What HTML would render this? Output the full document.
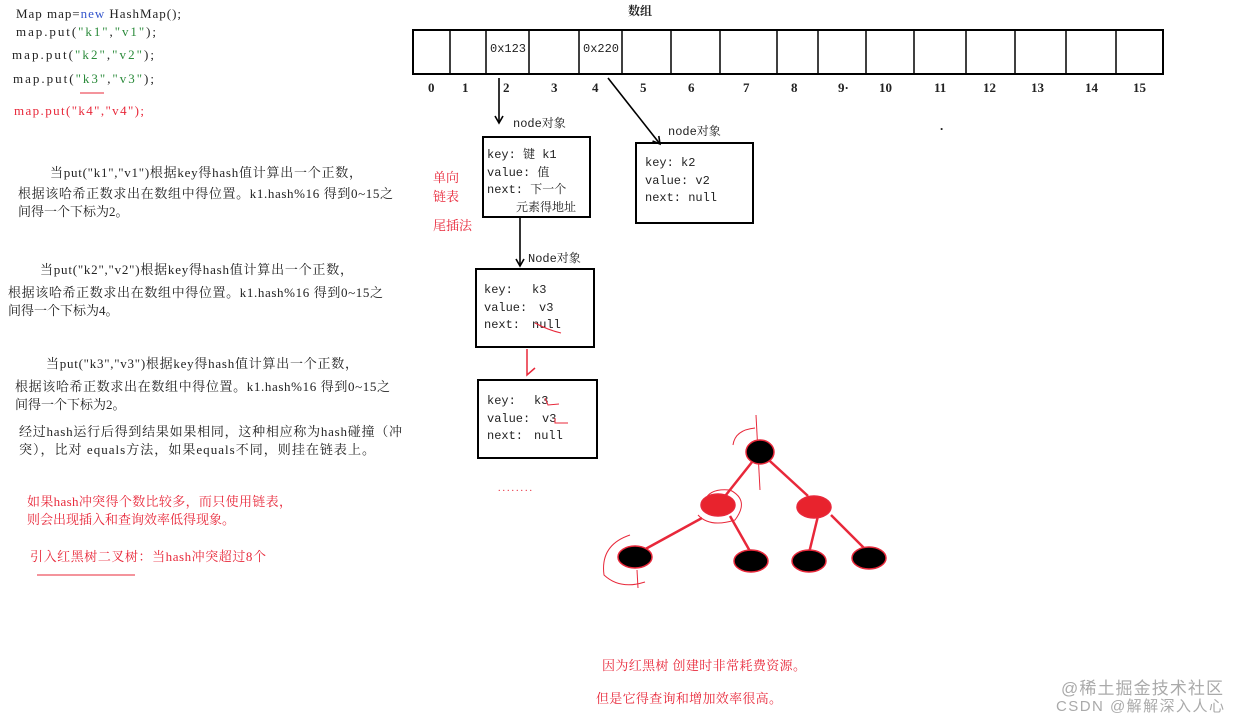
<!DOCTYPE html>
<html><head><meta charset="utf-8"><style>
html,body{margin:0;padding:0;background:#fff;}
svg{display:block;}
text{font-family:"Liberation Serif","Noto Serif CJK SC",serif;font-size:13px;fill:#222;}
.r{fill:#e8283a;}
.m{font-family:"Liberation Mono","Noto Serif CJK SC",monospace;font-size:12px;}
</style></head><body>
<svg width="1240" height="718" viewBox="0 0 1240 718" xmlns="http://www.w3.org/2000/svg">
<defs><marker id="ah" markerWidth="10" markerHeight="10" refX="8" refY="5" orient="auto" markerUnits="userSpaceOnUse"><path d="M1,1 L8,5 L1,9" fill="none" stroke="#000" stroke-width="1.6"/></marker></defs>
<text x="16" y="18" textLength="165">Map map=<tspan fill="#3355cc">new</tspan> HashMap();</text>
<text x="16" y="36" textLength="140">map.put(<tspan fill="#2a8a3a">"k1"</tspan>,<tspan fill="#2a8a3a">"v1"</tspan>);</text>
<text x="12" y="59" textLength="142">map.put(<tspan fill="#2a8a3a">"k2"</tspan>,<tspan fill="#2a8a3a">"v2"</tspan>);</text>
<text x="13" y="83" textLength="141">map.put(<tspan fill="#2a8a3a">"k3"</tspan>,<tspan fill="#2a8a3a">"v3"</tspan>);</text>
<line x1="80" y1="93" x2="104" y2="93" stroke="#e8283a" stroke-width="1"/>
<text class="r" x="14" y="115" textLength="130">map.put("k4","v4");</text>
<text x="50" y="177" textLength="312">当put("k1","v1")根据key得hash值计算出一个正数，</text>
<text x="18" y="198" textLength="375">根据该哈希正数求出在数组中得位置。k1.hash%16 得到0~15之</text>
<text x="18" y="216">间得一个下标为2。</text>
<text x="40" y="274" textLength="313">当put("k2","v2")根据key得hash值计算出一个正数，</text>
<text x="8" y="297" textLength="375">根据该哈希正数求出在数组中得位置。k1.hash%16 得到0~15之</text>
<text x="8" y="315">间得一个下标为4。</text>
<text x="46" y="368" textLength="312">当put("k3","v3")根据key得hash值计算出一个正数，</text>
<text x="15" y="391" textLength="375">根据该哈希正数求出在数组中得位置。k1.hash%16 得到0~15之</text>
<text x="15" y="409">间得一个下标为2。</text>
<text x="19" y="436" textLength="383">经过hash运行后得到结果如果相同，这种相应称为hash碰撞（冲</text>
<text x="19" y="454" textLength="356">突），比对 equals方法，如果equals不同，则挂在链表上。</text>
<text class="r" x="27" y="506" textLength="265">如果hash冲突得个数比较多，而只使用链表，</text>
<text class="r" x="27" y="524">则会出现插入和查询效率低得现象。</text>
<text class="r" x="30" y="561" textLength="236">引入红黑树二叉树：当hash冲突超过8个</text>
<line x1="37" y1="575" x2="135" y2="575" stroke="#e8283a" stroke-width="1"/>
<text x="628" y="15" style="font-weight:bold;font-size:12px">数组</text>
<rect x="413" y="30" width="750" height="44" fill="none" stroke="#000" stroke-width="2"/>
<g stroke="#000" stroke-width="1.5">
<line x1="450" y1="30" x2="450" y2="74"/><line x1="486" y1="30" x2="486" y2="74"/><line x1="529" y1="30" x2="529" y2="74"/><line x1="579" y1="30" x2="579" y2="74"/><line x1="622" y1="30" x2="622" y2="74"/><line x1="671" y1="30" x2="671" y2="74"/><line x1="720" y1="30" x2="720" y2="74"/><line x1="777" y1="30" x2="777" y2="74"/><line x1="818" y1="30" x2="818" y2="74"/><line x1="866" y1="30" x2="866" y2="74"/><line x1="914" y1="30" x2="914" y2="74"/><line x1="966" y1="30" x2="966" y2="74"/><line x1="1015" y1="30" x2="1015" y2="74"/><line x1="1066" y1="30" x2="1066" y2="74"/><line x1="1116" y1="30" x2="1116" y2="74"/>
</g>
<text x="490" y="52" class="m">0x123</text>
<text x="583" y="52" class="m">0x220</text>
<g style="font-weight:bold;font-size:12px">
<text x="428" y="92">0</text><text x="462" y="92">1</text><text x="503" y="92">2</text><text x="551" y="92">3</text><text x="592" y="92">4</text><text x="640" y="92">5</text><text x="688" y="92">6</text><text x="743" y="92">7</text><text x="791" y="92">8</text><text x="838" y="92">9·</text><text x="879" y="92">10</text><text x="934" y="92">11</text><text x="983" y="92">12</text><text x="1031" y="92">13</text><text x="1085" y="92">14</text><text x="1133" y="92">15</text>
</g>
<text x="940" y="130" style="font-weight:bold">.</text>
<line x1="499" y1="78" x2="499" y2="123" stroke="#000" stroke-width="1.6" marker-end="url(#ah)"/>
<line x1="608" y1="78" x2="660" y2="144" stroke="#000" stroke-width="1.6" marker-end="url(#ah)"/>
<line x1="520" y1="218" x2="520" y2="266" stroke="#000" stroke-width="1.6" marker-end="url(#ah)"/>
<text x="513" y="127" class="m">node对象</text>
<text x="668" y="135" class="m">node对象</text>
<text x="528" y="262" class="m">Node对象</text>
<rect x="483" y="137" width="107" height="80" fill="none" stroke="#000" stroke-width="2"/>
<text x="487" y="158" class="m">key: 键 k1</text>
<text x="487" y="176" class="m">value: 值</text>
<text x="487" y="193" class="m">next: 下一个</text>
<text x="516" y="211" class="m">元素得地址</text>
<text class="r" x="433" y="182">单向</text>
<text class="r" x="433" y="201">链表</text>
<text class="r" x="433" y="230">尾插法</text>
<rect x="636" y="143" width="117" height="80" fill="none" stroke="#000" stroke-width="2"/>
<text x="645" y="166" class="m">key: k2</text>
<text x="645" y="184" class="m">value: v2</text>
<text x="645" y="201" class="m">next: null</text>
<rect x="476" y="269" width="118" height="78" fill="none" stroke="#000" stroke-width="2"/>
<text x="484" y="293" class="m">key:<tspan x="532">k3</tspan></text>
<text x="484" y="311" class="m">value:<tspan x="539">v3</tspan></text>
<text x="484" y="328" class="m">next:<tspan x="532">null</tspan></text>
<path d="M535,323 Q548,330 561,333" stroke="#e8283a" fill="none"/>
<path d="M527,349 L527,375 L535,368" stroke="#e8283a" stroke-width="1.5" fill="none"/>
<rect x="478" y="380" width="119" height="78" fill="none" stroke="#000" stroke-width="2"/>
<text x="487" y="404" class="m">key:<tspan x="534">k3</tspan></text>
<text x="487" y="422" class="m">value:<tspan x="542">v3</tspan></text>
<text x="487" y="439" class="m">next:<tspan x="534">null</tspan></text>
<path d="M545,398 L548,405 L559,404 M555,418 L555,423 L568,423" stroke="#e8283a" fill="none"/>
<text x="498" y="491" style="fill:#e8283a;font-size:10px" letter-spacing="2">........</text>
<g stroke="#e8283a" stroke-width="2.5">
<line x1="760" y1="452" x2="718" y2="505"/><line x1="760" y1="452" x2="808" y2="496"/>
<line x1="702" y1="518" x2="640" y2="552"/><line x1="730" y1="516" x2="751" y2="553"/>
<line x1="818" y1="516" x2="809" y2="553"/><line x1="831" y1="515" x2="866" y2="550"/>
</g>
<g stroke="#e8283a" stroke-width="1" fill="none">
<line x1="756" y1="415" x2="760" y2="490"/>
<path d="M733,445 Q735,430 755,428"/>
<path d="M705,500 Q710,488 730,490 Q750,500 735,520 Q710,528 698,515"/>
<path d="M630,535 Q600,545 604,575 Q620,590 645,582"/>
<line x1="637" y1="570" x2="638" y2="588"/>
</g>
<g stroke="#e8283a" stroke-width="1.5">
<ellipse cx="760" cy="452" rx="14" ry="12" fill="#000"/>
<ellipse cx="718" cy="505" rx="17" ry="11" fill="#e8232d"/>
<ellipse cx="814" cy="507" rx="17" ry="11" fill="#e8232d"/>
<ellipse cx="635" cy="557" rx="17" ry="11" fill="#000"/>
<ellipse cx="751" cy="561" rx="17" ry="11" fill="#000"/>
<ellipse cx="809" cy="561" rx="17" ry="11" fill="#000"/>
<ellipse cx="869" cy="558" rx="17" ry="11" fill="#000"/>
</g>
<text class="r" x="602" y="670" textLength="204">因为红黑树 创建时非常耗费资源。</text>
<text class="r" x="596" y="703" textLength="186">但是它得查询和增加效率很高。</text>
<text x="1061" y="694" style="font-family:'Liberation Sans','Noto Sans CJK SC',sans-serif;font-size:17px;fill:#aaa" textLength="162">@稀土掘金技术社区</text>
<text x="1056" y="711" style="font-family:'Liberation Sans','Noto Sans CJK SC',sans-serif;font-size:15px;fill:#aaa" textLength="168">CSDN @解解深入人心</text>
</svg>
</body></html>
